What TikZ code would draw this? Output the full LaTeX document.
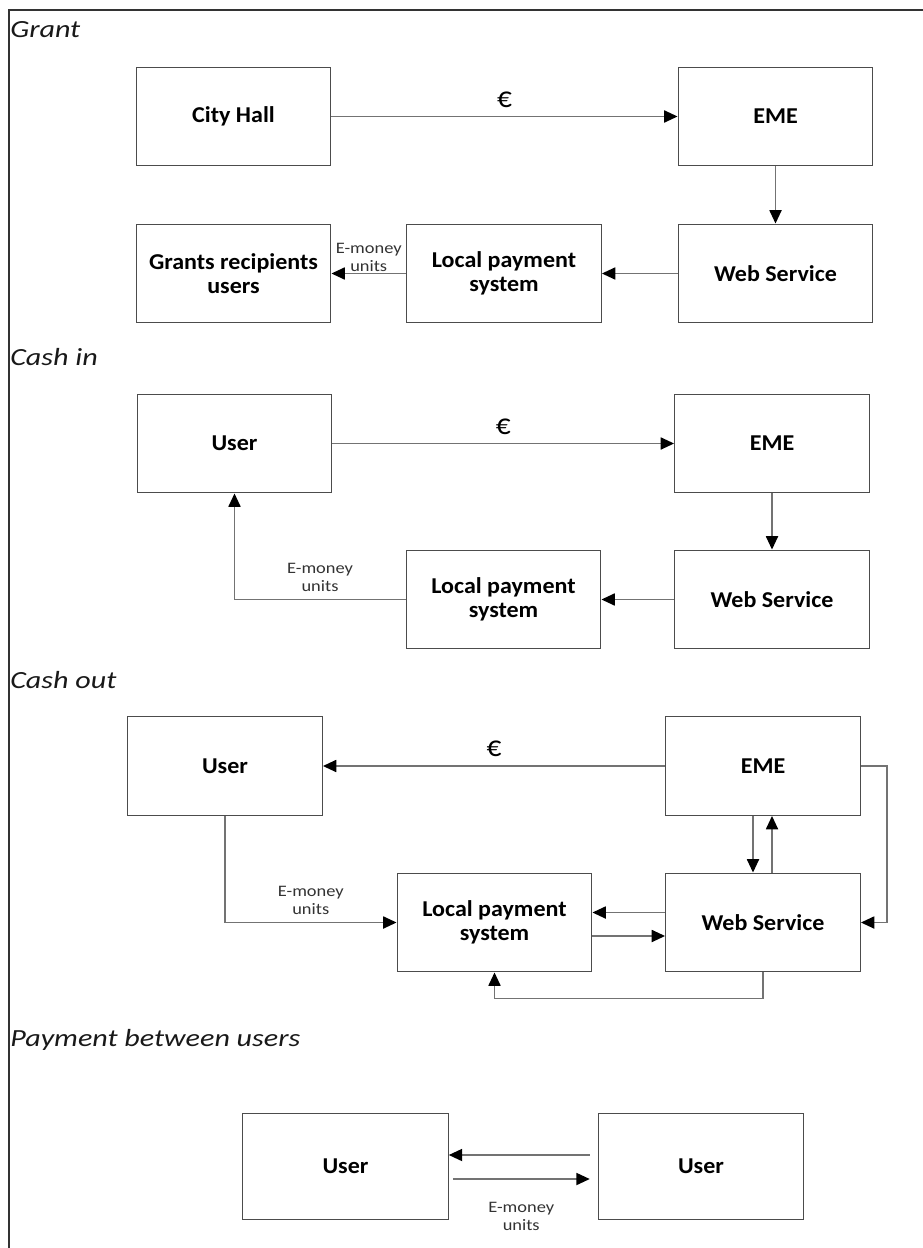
\documentclass[tikz,border=0pt]{standalone}
\usepackage{fontspec}
\setmainfont{Carlito}
\newfontfamily\titlefont[FakeStretch=1.22]{Carlito}
\newfontfamily\labelfont[FakeStretch=1.15]{Carlito}
\newfontfamily\boxfont[FakeStretch=1.06]{Carlito}
\usetikzlibrary{calc, positioning, arrows.meta}
\def\boxw{146pt}
\def\boxh{74pt}
\tikzstyle{block}=[draw=black!70, line width=0.9pt, minimum width=\boxw, minimum height=\boxh, align=center, font=\boxfont\bfseries\fontsize{17}{18}\selectfont]
\tikzstyle{big block}=[block, minimum width=154pt, minimum height=79pt]
\tikzstyle{flow}=[draw=black!55, line width=1.3pt, -{Triangle[length=10pt,width=9pt,color=black]}]
\tikzstyle{title}=[anchor=west, inner sep=0pt, text=black!90, font=\titlefont\itshape\fontsize{18.5}{20}\selectfont]
\tikzstyle{money}=[font=\labelfont\fontsize{12}{13.5}\selectfont, text=black!80, align=center, inner sep=1pt]
\tikzstyle{euro}=[inner sep=2pt, font=\fontsize{22}{22}\selectfont]

\begin{document}
\begin{tikzpicture}[x=0.75pt, y=-0.75pt]
		\useasboundingbox (0,0) rectangle (923,1248);
		\draw[black!80, line width=0.8pt] (9,1248) -- (9,10) -- (923,10);
		% Grant
		\node[title] (T-1) at (10,30) {Grant};
		\node[block] (CH) at (233.5,116.5) {City Hall};
		\node[block] (E-1) at (775.5,116.5) {EME};
		\node[block] (W-1) at (775.5,273.5) {Web Service};
		\node[block] (L-1) at (504,273.5) {Local payment\\system};
		\node[block] (R) at (233.5,273.5) {Grants recipients\\users};
		\path
		(CH) edge[flow] node[above=4pt, euro] {€} (E-1)
		(E-1) edge[flow] (W-1)
		(W-1) edge[flow] (L-1)
		(L-1) edge[flow] node[above, money] {E-money\\units} (R);
		% Cash in
		\node[title] (T-2) at (10,357) {Cash in};
		\node[block] (U-2) at (234.5,443.5) {User};
		\node[block] (E-2) at (772,443.5) {EME};
		\node[block] (W-2) at (772,599.5) {Web Service};
		\node[block] (L-2) at (503.5,599.5) {Local payment\\system};
		\path
		(U-2) edge[flow] node[above=4pt, euro] {€} (E-2)
		(E-2) edge[flow] (W-2)
		(W-2) edge[flow] (L-2);
		\draw[flow] (L-2.west) -| node[pos=0.25, above=4pt, money] {E-money\\units} (U-2.south);
		% Cash out
		\node[title] (T-3) at (10,680) {Cash out};
		\node[block] (U-3) at (225,766) {User};
		\node[block] (E-3) at (763,766) {EME};
		\node[block] (W-3) at (763,922.5) {Web Service};
		\node[block] (L-3) at (494.5,922.5) {Local payment\\system};
		\path (E-3) edge[flow] node[above=4pt, euro] {€} (U-3);
		\draw[flow] (E-3.east) -- ++(26,0) |- (W-3.east);
		\draw[flow] ($(E-3.south)+(-10,0)$) -- ($(W-3.north)+(-10,0)$);
		\draw[flow] ($(W-3.north)+(9,0)$) -- ($(E-3.south)+(9,0)$);
		\draw[flow] (U-3.south) |- node[pos=0.75, above=4pt, money] {E-money\\units} (L-3.west);
		\draw[flow] ($(W-3.west)+(0,-10)$) -- ($(L-3.east)+(0,-10)$);
		\draw[flow] ($(L-3.east)+(0,13.5)$) -- ($(W-3.west)+(0,13.5)$);
		\draw[flow] (W-3.south) -- ++(0,26) -| (L-3.south);
		% Payment between users
		\node[title] (T-4) at (10,1040) {Payment between users};
		\node[big block] (U-4) at (345.5,1166.5) {User};
		\node[big block] (U-5) at (701,1166.5) {User};
		\draw[flow] ($(U-5.west)+(-8,-11.5)$) -- ($(U-4.east)+(0,-11.5)$);
		\draw[flow] ($(U-4.east)+(4,12.5)$) -- node[below=16pt, money] {E-money\\units} ($(U-5.west)+(-8,12.5)$);
	\end{tikzpicture}
\end{document}
